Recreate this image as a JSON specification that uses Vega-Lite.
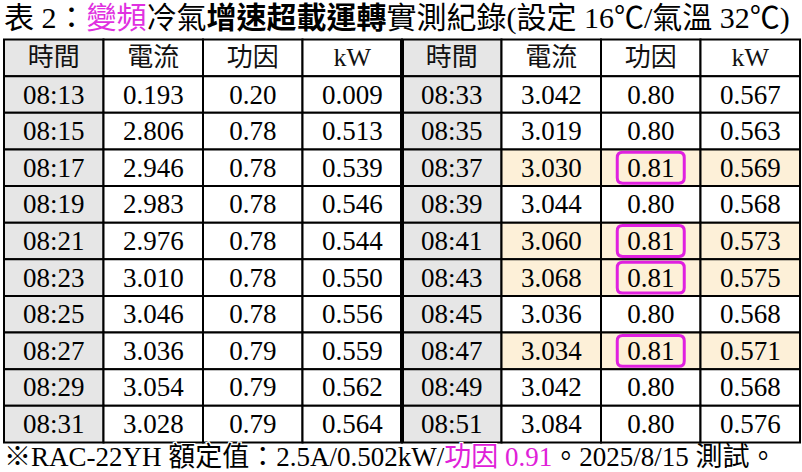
{
  "$schema": "https://vega.github.io/schema/vega-lite/v6.json",
  "width": 796,
  "height": 469,
  "autosize": {"type": "none"},
  "padding": {"left": 4, "right": 2, "top": 3, "bottom": 0},
  "background": "white",
  "config": {"view": {"stroke": null}},
  "datasets": {
    "cells": [
      {"row": "head", "col": "L時間", "text": "時間", "kind": "time"},
      {"row": "head", "col": "L電流", "text": "電流", "kind": "plain"},
      {"row": "head", "col": "L功因", "text": "功因", "kind": "plain"},
      {"row": "head", "col": "LkW", "text": "kW", "kind": "plain"},
      {"row": "head", "col": "R時間", "text": "時間", "kind": "time"},
      {"row": "head", "col": "R電流", "text": "電流", "kind": "plain"},
      {"row": "head", "col": "R功因", "text": "功因", "kind": "plain"},
      {"row": "head", "col": "RkW", "text": "kW", "kind": "plain"},

      {"row": "r1", "col": "L時間", "text": "08:13", "kind": "time"},
      {"row": "r1", "col": "L電流", "text": "0.193", "kind": "plain"},
      {"row": "r1", "col": "L功因", "text": "0.20", "kind": "plain"},
      {"row": "r1", "col": "LkW", "text": "0.009", "kind": "plain"},
      {"row": "r1", "col": "R時間", "text": "08:33", "kind": "time"},
      {"row": "r1", "col": "R電流", "text": "3.042", "kind": "plain"},
      {"row": "r1", "col": "R功因", "text": "0.80", "kind": "plain"},
      {"row": "r1", "col": "RkW", "text": "0.567", "kind": "plain"},

      {"row": "r2", "col": "L時間", "text": "08:15", "kind": "time"},
      {"row": "r2", "col": "L電流", "text": "2.806", "kind": "plain"},
      {"row": "r2", "col": "L功因", "text": "0.78", "kind": "plain"},
      {"row": "r2", "col": "LkW", "text": "0.513", "kind": "plain"},
      {"row": "r2", "col": "R時間", "text": "08:35", "kind": "time"},
      {"row": "r2", "col": "R電流", "text": "3.019", "kind": "plain"},
      {"row": "r2", "col": "R功因", "text": "0.80", "kind": "plain"},
      {"row": "r2", "col": "RkW", "text": "0.563", "kind": "plain"},

      {"row": "r3", "col": "L時間", "text": "08:17", "kind": "time"},
      {"row": "r3", "col": "L電流", "text": "2.946", "kind": "plain"},
      {"row": "r3", "col": "L功因", "text": "0.78", "kind": "plain"},
      {"row": "r3", "col": "LkW", "text": "0.539", "kind": "plain"},
      {"row": "r3", "col": "R時間", "text": "08:37", "kind": "time"},
      {"row": "r3", "col": "R電流", "text": "3.030", "kind": "hl"},
      {"row": "r3", "col": "R功因", "text": "0.81", "kind": "hl"},
      {"row": "r3", "col": "RkW", "text": "0.569", "kind": "hl"},

      {"row": "r4", "col": "L時間", "text": "08:19", "kind": "time"},
      {"row": "r4", "col": "L電流", "text": "2.983", "kind": "plain"},
      {"row": "r4", "col": "L功因", "text": "0.78", "kind": "plain"},
      {"row": "r4", "col": "LkW", "text": "0.546", "kind": "plain"},
      {"row": "r4", "col": "R時間", "text": "08:39", "kind": "time"},
      {"row": "r4", "col": "R電流", "text": "3.044", "kind": "plain"},
      {"row": "r4", "col": "R功因", "text": "0.80", "kind": "plain"},
      {"row": "r4", "col": "RkW", "text": "0.568", "kind": "plain"},

      {"row": "r5", "col": "L時間", "text": "08:21", "kind": "time"},
      {"row": "r5", "col": "L電流", "text": "2.976", "kind": "plain"},
      {"row": "r5", "col": "L功因", "text": "0.78", "kind": "plain"},
      {"row": "r5", "col": "LkW", "text": "0.544", "kind": "plain"},
      {"row": "r5", "col": "R時間", "text": "08:41", "kind": "time"},
      {"row": "r5", "col": "R電流", "text": "3.060", "kind": "hl"},
      {"row": "r5", "col": "R功因", "text": "0.81", "kind": "hl"},
      {"row": "r5", "col": "RkW", "text": "0.573", "kind": "hl"},

      {"row": "r6", "col": "L時間", "text": "08:23", "kind": "time"},
      {"row": "r6", "col": "L電流", "text": "3.010", "kind": "plain"},
      {"row": "r6", "col": "L功因", "text": "0.78", "kind": "plain"},
      {"row": "r6", "col": "LkW", "text": "0.550", "kind": "plain"},
      {"row": "r6", "col": "R時間", "text": "08:43", "kind": "time"},
      {"row": "r6", "col": "R電流", "text": "3.068", "kind": "hl"},
      {"row": "r6", "col": "R功因", "text": "0.81", "kind": "hl"},
      {"row": "r6", "col": "RkW", "text": "0.575", "kind": "hl"},

      {"row": "r7", "col": "L時間", "text": "08:25", "kind": "time"},
      {"row": "r7", "col": "L電流", "text": "3.046", "kind": "plain"},
      {"row": "r7", "col": "L功因", "text": "0.78", "kind": "plain"},
      {"row": "r7", "col": "LkW", "text": "0.556", "kind": "plain"},
      {"row": "r7", "col": "R時間", "text": "08:45", "kind": "time"},
      {"row": "r7", "col": "R電流", "text": "3.036", "kind": "plain"},
      {"row": "r7", "col": "R功因", "text": "0.80", "kind": "plain"},
      {"row": "r7", "col": "RkW", "text": "0.568", "kind": "plain"},

      {"row": "r8", "col": "L時間", "text": "08:27", "kind": "time"},
      {"row": "r8", "col": "L電流", "text": "3.036", "kind": "plain"},
      {"row": "r8", "col": "L功因", "text": "0.79", "kind": "plain"},
      {"row": "r8", "col": "LkW", "text": "0.559", "kind": "plain"},
      {"row": "r8", "col": "R時間", "text": "08:47", "kind": "time"},
      {"row": "r8", "col": "R電流", "text": "3.034", "kind": "hl"},
      {"row": "r8", "col": "R功因", "text": "0.81", "kind": "hl"},
      {"row": "r8", "col": "RkW", "text": "0.571", "kind": "hl"},

      {"row": "r9", "col": "L時間", "text": "08:29", "kind": "time"},
      {"row": "r9", "col": "L電流", "text": "3.054", "kind": "plain"},
      {"row": "r9", "col": "L功因", "text": "0.79", "kind": "plain"},
      {"row": "r9", "col": "LkW", "text": "0.562", "kind": "plain"},
      {"row": "r9", "col": "R時間", "text": "08:49", "kind": "time"},
      {"row": "r9", "col": "R電流", "text": "3.042", "kind": "plain"},
      {"row": "r9", "col": "R功因", "text": "0.80", "kind": "plain"},
      {"row": "r9", "col": "RkW", "text": "0.568", "kind": "plain"},

      {"row": "r10", "col": "L時間", "text": "08:31", "kind": "time"},
      {"row": "r10", "col": "L電流", "text": "3.028", "kind": "plain"},
      {"row": "r10", "col": "L功因", "text": "0.79", "kind": "plain"},
      {"row": "r10", "col": "LkW", "text": "0.564", "kind": "plain"},
      {"row": "r10", "col": "R時間", "text": "08:51", "kind": "time"},
      {"row": "r10", "col": "R電流", "text": "3.084", "kind": "plain"},
      {"row": "r10", "col": "R功因", "text": "0.80", "kind": "plain"},
      {"row": "r10", "col": "RkW", "text": "0.576", "kind": "plain"}
    ],
    "notes": [
      {"row": "title", "col": "L時間", "seg": "full", "text": "表 2：變頻冷氣增速超載運轉實測紀錄(設定 16℃/氣溫 32℃)"},
      {"row": "title", "col": "L時間", "seg": "bold", "text": "表 2：變頻冷氣增速超載運轉"},
      {"row": "title", "col": "L時間", "seg": "plain2", "text": "表 2：變頻冷氣"},
      {"row": "title", "col": "L時間", "seg": "mag", "text": "表 2：變頻"},
      {"row": "title", "col": "L時間", "seg": "pre", "text": "表 2："},
      {"row": "foot", "col": "L時間", "seg": "full", "text": "※RAC-22YH 額定值：2.5A/0.502kW/功因 0.91。2025/8/15 測試。"},
      {"row": "foot", "col": "L時間", "seg": "mag", "text": "※RAC-22YH 額定值：2.5A/0.502kW/功因 0.91"},
      {"row": "foot", "col": "L時間", "seg": "pre", "text": "※RAC-22YH 額定值：2.5A/0.502kW/"}
    ]
  },
  "encoding": {
    "x": {"field": "col", "type": "nominal", "axis": null,
      "scale": {"domain": ["L時間", "L電流", "L功因", "LkW", "R時間", "R電流", "R功因", "RkW"], "paddingInner": 0, "paddingOuter": 0}},
    "y": {"field": "row", "type": "nominal", "axis": null,
      "scale": {"domain": ["title", "head", "r1", "r2", "r3", "r4", "r5", "r6", "r7", "r8", "r9", "r10", "foot"], "paddingInner": 0, "paddingOuter": 0, "range": [0, 476]}}
  },
  "layer": [
    {
      "data": {"name": "cells"},
      "mark": {"type": "rect", "stroke": "#000000", "strokeWidth": 2},
      "encoding": {
        "fill": {"field": "kind", "type": "nominal", "legend": null,
          "scale": {"domain": ["time", "plain", "hl"], "range": ["#e6e6e6", "#ffffff", "#fdf0d8"]}}
      }
    },
    {
      "data": {"name": "cells"},
      "transform": [{"filter": "datum.col == 'R時間'"}],
      "mark": {"type": "tick", "orient": "vertical", "thickness": 4, "size": 37, "color": "#000000", "opacity": 1},
      "encoding": {
        "x": {"field": "col", "type": "nominal", "bandPosition": 0}
      }
    },
    {
      "data": {"name": "cells"},
      "transform": [{"filter": "datum.kind == 'hl' && datum.col == 'R功因'"}],
      "mark": {"type": "point", "shape": "M-0.84,-0.46L0.84,-0.46Q1,-0.46 1,-0.3L1,0.3Q1,0.46 0.84,0.46L-0.84,0.46Q-1,0.46 -1,0.3L-1,-0.3Q-1,-0.46 -0.84,-0.46Z",
        "size": 4489, "filled": false, "stroke": "#e020e0", "strokeWidth": 3, "opacity": 1, "strokeOpacity": 1}
    },
    {
      "data": {"name": "cells"},
      "transform": [{"filter": "datum.row == 'head'"}],
      "mark": {"type": "text", "font": "Liberation Serif, Noto Sans CJK TC", "fontSize": 26, "fill": "#111111", "baseline": "middle", "align": "center"},
      "encoding": {"text": {"field": "text", "type": "nominal"}}
    },
    {
      "data": {"name": "cells"},
      "transform": [{"filter": "datum.row != 'head'"}],
      "mark": {"type": "text", "font": "Liberation Serif, Noto Sans CJK TC", "fontSize": 27, "fontWeight": "normal", "fill": "#000000", "baseline": "middle", "align": "center", "dy": 1},
      "encoding": {"text": {"field": "text", "type": "nominal"}}
    },

    {
      "data": {"name": "notes"},
      "transform": [{"filter": "datum.row == 'title' && datum.seg == 'full'"}],
      "mark": {"type": "text", "font": "Liberation Serif, Noto Sans CJK TC", "fontSize": 30, "fill": "#000000", "baseline": "middle", "align": "left", "dy": -2},
      "encoding": {"x": {"field": "col", "type": "nominal", "bandPosition": 0}, "text": {"field": "text", "type": "nominal"}}
    },
    {
      "data": {"name": "notes"},
      "transform": [{"filter": "datum.row == 'title' && datum.seg == 'bold'"}],
      "mark": {"type": "text", "font": "Liberation Serif, Noto Sans CJK TC", "fontSize": 30, "fill": "#ffffff", "stroke": "#ffffff", "strokeWidth": 2, "baseline": "middle", "align": "left", "dy": -2},
      "encoding": {"x": {"field": "col", "type": "nominal", "bandPosition": 0}, "text": {"field": "text", "type": "nominal"}}
    },
    {
      "data": {"name": "notes"},
      "transform": [{"filter": "datum.row == 'title' && datum.seg == 'bold'"}],
      "mark": {"type": "text", "font": "Liberation Serif, Noto Sans CJK TC", "fontSize": 30, "fontWeight": "bold", "fill": "#000000", "baseline": "middle", "align": "left", "dy": -2},
      "encoding": {"x": {"field": "col", "type": "nominal", "bandPosition": 0}, "text": {"field": "text", "type": "nominal"}}
    },
    {
      "data": {"name": "notes"},
      "transform": [{"filter": "datum.row == 'title' && datum.seg == 'plain2'"}],
      "mark": {"type": "text", "font": "Liberation Serif, Noto Sans CJK TC", "fontSize": 30, "fontWeight": "bold", "fill": "#ffffff", "stroke": "#ffffff", "strokeWidth": 2, "baseline": "middle", "align": "left", "dy": -2},
      "encoding": {"x": {"field": "col", "type": "nominal", "bandPosition": 0}, "text": {"field": "text", "type": "nominal"}}
    },
    {
      "data": {"name": "notes"},
      "transform": [{"filter": "datum.row == 'title' && datum.seg == 'plain2'"}],
      "mark": {"type": "text", "font": "Liberation Serif, Noto Sans CJK TC", "fontSize": 30, "fill": "#000000", "baseline": "middle", "align": "left", "dy": -2},
      "encoding": {"x": {"field": "col", "type": "nominal", "bandPosition": 0}, "text": {"field": "text", "type": "nominal"}}
    },
    {
      "data": {"name": "notes"},
      "transform": [{"filter": "datum.row == 'title' && datum.seg == 'mag'"}],
      "mark": {"type": "text", "font": "Liberation Serif, Noto Sans CJK TC", "fontSize": 30, "fill": "#ffffff", "stroke": "#ffffff", "strokeWidth": 2, "baseline": "middle", "align": "left", "dy": -2},
      "encoding": {"x": {"field": "col", "type": "nominal", "bandPosition": 0}, "text": {"field": "text", "type": "nominal"}}
    },
    {
      "data": {"name": "notes"},
      "transform": [{"filter": "datum.row == 'title' && datum.seg == 'mag'"}],
      "mark": {"type": "text", "font": "Liberation Serif, Noto Sans CJK TC", "fontSize": 30, "fill": "#e030e0", "baseline": "middle", "align": "left", "dy": -2},
      "encoding": {"x": {"field": "col", "type": "nominal", "bandPosition": 0}, "text": {"field": "text", "type": "nominal"}}
    },
    {
      "data": {"name": "notes"},
      "transform": [{"filter": "datum.row == 'title' && datum.seg == 'pre'"}],
      "mark": {"type": "text", "font": "Liberation Serif, Noto Sans CJK TC", "fontSize": 30, "fill": "#ffffff", "stroke": "#ffffff", "strokeWidth": 2, "baseline": "middle", "align": "left", "dy": -2},
      "encoding": {"x": {"field": "col", "type": "nominal", "bandPosition": 0}, "text": {"field": "text", "type": "nominal"}}
    },
    {
      "data": {"name": "notes"},
      "transform": [{"filter": "datum.row == 'title' && datum.seg == 'pre'"}],
      "mark": {"type": "text", "font": "Liberation Serif, Noto Sans CJK TC", "fontSize": 30, "fill": "#000000", "baseline": "middle", "align": "left", "dy": -2},
      "encoding": {"x": {"field": "col", "type": "nominal", "bandPosition": 0}, "text": {"field": "text", "type": "nominal"}}
    },

    {
      "data": {"name": "notes"},
      "transform": [{"filter": "datum.row == 'foot' && datum.seg == 'full'"}],
      "mark": {"type": "text", "font": "Liberation Serif, Noto Sans CJK TC", "fontSize": 27, "fill": "#000000", "baseline": "middle", "align": "left", "dy": -3},
      "encoding": {"x": {"field": "col", "type": "nominal", "bandPosition": 0}, "text": {"field": "text", "type": "nominal"}}
    },
    {
      "data": {"name": "notes"},
      "transform": [{"filter": "datum.row == 'foot' && datum.seg == 'mag'"}],
      "mark": {"type": "text", "font": "Liberation Serif, Noto Sans CJK TC", "fontSize": 27, "fill": "#ffffff", "stroke": "#ffffff", "strokeWidth": 2, "baseline": "middle", "align": "left", "dy": -3},
      "encoding": {"x": {"field": "col", "type": "nominal", "bandPosition": 0}, "text": {"field": "text", "type": "nominal"}}
    },
    {
      "data": {"name": "notes"},
      "transform": [{"filter": "datum.row == 'foot' && datum.seg == 'mag'"}],
      "mark": {"type": "text", "font": "Liberation Serif, Noto Sans CJK TC", "fontSize": 27, "fill": "#e020d8", "baseline": "middle", "align": "left", "dy": -3},
      "encoding": {"x": {"field": "col", "type": "nominal", "bandPosition": 0}, "text": {"field": "text", "type": "nominal"}}
    },
    {
      "data": {"name": "notes"},
      "transform": [{"filter": "datum.row == 'foot' && datum.seg == 'pre'"}],
      "mark": {"type": "text", "font": "Liberation Serif, Noto Sans CJK TC", "fontSize": 27, "fill": "#ffffff", "stroke": "#ffffff", "strokeWidth": 2, "baseline": "middle", "align": "left", "dy": -3},
      "encoding": {"x": {"field": "col", "type": "nominal", "bandPosition": 0}, "text": {"field": "text", "type": "nominal"}}
    },
    {
      "data": {"name": "notes"},
      "transform": [{"filter": "datum.row == 'foot' && datum.seg == 'pre'"}],
      "mark": {"type": "text", "font": "Liberation Serif, Noto Sans CJK TC", "fontSize": 27, "fill": "#000000", "baseline": "middle", "align": "left", "dy": -3},
      "encoding": {"x": {"field": "col", "type": "nominal", "bandPosition": 0}, "text": {"field": "text", "type": "nominal"}}
    }
  ]
}
